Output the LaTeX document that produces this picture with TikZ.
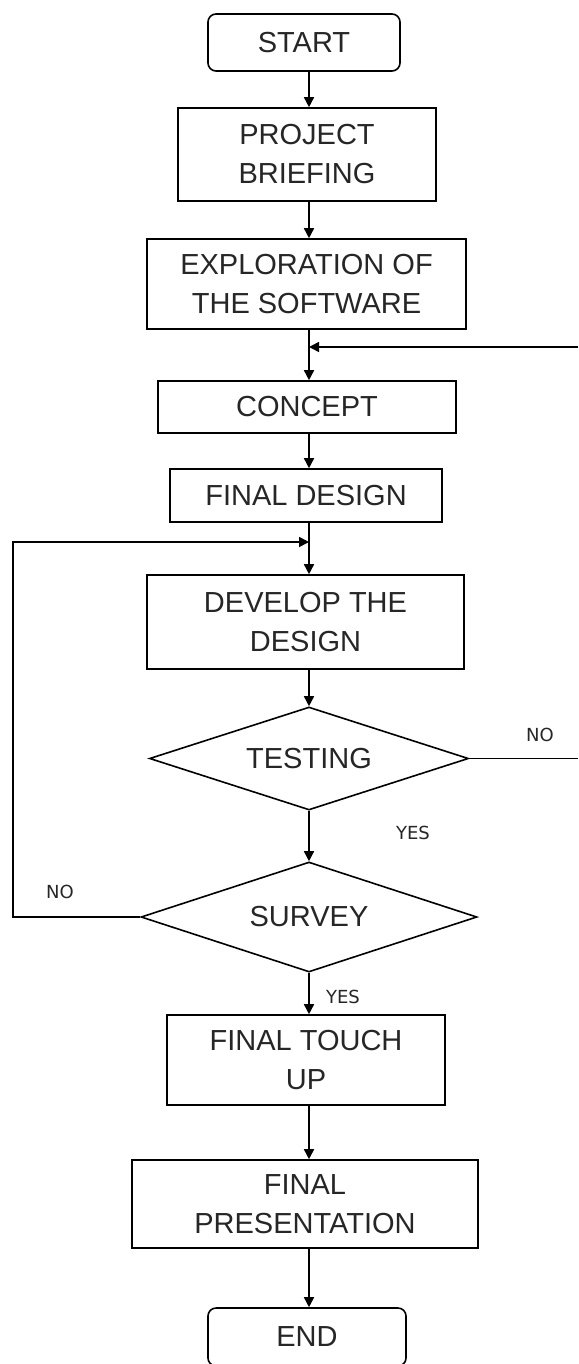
\documentclass[tikz,border=0pt]{standalone}
\usepackage{fontspec}
\setmainfont{Liberation Sans}
\newfontfamily\labelfont{DejaVu Sans}
\usetikzlibrary{shapes.geometric,arrows.meta}
\begin{document}
\begin{tikzpicture}[x=1pt,y=-1pt,
  every node/.style={text=black!85},
  boxtxt/.style={font=\fontsize{29}{39}\selectfont, align=center},
  proc/.style={boxtxt, draw=black, line width=1.6pt, rectangle, inner sep=0pt},
  term/.style={proc, rounded corners=8pt},
  decide/.style={boxtxt, draw=black, line width=1.6pt, diamond, inner sep=0pt},
  lbl/.style={font=\labelfont\fontsize{18}{20}\selectfont, inner sep=0pt},
  flow/.style={line width=1.6pt, draw=black, -{Triangle[length=10pt,width=10pt]}},
  plain/.style={line width=1.6pt, draw=black}
]
\clip (0,0) rectangle (578,1364);
\fill[white] (0,0) rectangle (578,1364);

\coordinate (axis) at (309,0);

\node[term, minimum width=192pt, minimum height=57pt] (start) at (304,42.5) {START};
\node[proc, minimum width=258pt, minimum height=93pt] (brief) at (307,154.5) {PROJECT\\BRIEFING};
\node[proc, minimum width=319pt, minimum height=90pt] (explore) at (306.5,284) {EXPLORATION OF\\THE SOFTWARE};
\node[proc, minimum width=298pt, minimum height=52pt] (concept) at (307,407) {CONCEPT};
\node[proc, minimum width=272pt, minimum height=53pt] (fdesign) at (306,495.5) {FINAL DESIGN};
\node[proc, minimum width=317pt, minimum height=94pt] (develop) at (305.5,622) {DEVELOP THE\\DESIGN};
\node[decide, aspect=3.1, minimum width=319pt, minimum height=103pt] (testing) at (309,758.5) {TESTING};
\node[decide, aspect=3.05, minimum width=336pt, minimum height=110pt] (survey) at (309,917) {SURVEY};
\node[proc, minimum width=278pt, minimum height=90pt] (touch) at (306,1060) {FINAL TOUCH\\UP};
\node[proc, minimum width=346pt, minimum height=88pt] (present) at (305,1204) {FINAL\\PRESENTATION};
\node[term, minimum width=198pt, minimum height=58pt] (end) at (307,1337) {END};

\node[lbl] (noright) at (540,735) {NO};
\node[lbl] (yes1) at (413,833) {YES};
\node[lbl] (noleft) at (60,892) {NO};
\node[lbl] (yes2) at (343,997) {YES};

\coordinate (backin) at (309,347);
\coordinate (backright) at (578,347);
\coordinate (noout) at (578,758.5);
\coordinate (loopin) at (309,542);
\coordinate (loopleft) at (13,542);

% main flow
\draw[flow] (start.south -| axis) -- (brief.north -| axis);
\draw[flow] (brief.south -| axis) -- (explore.north -| axis);
\draw[flow] (explore.south -| axis) -- (concept.north -| axis);
\draw[flow] (concept.south -| axis) -- (fdesign.north -| axis);
\draw[flow] (fdesign.south -| axis) -- (develop.north -| axis);
\draw[flow] (develop.south -| axis) -- (testing.north);
\draw[flow] (testing.south) -- (survey.north);
\draw[flow] (survey.south) -- (touch.north -| axis);
\draw[flow] (touch.south -| axis) -- (present.north -| axis);
\draw[flow] (present.south -| axis) -- (end.north -| axis);

% feedback lines
\draw[flow] (backright) -- (backin);
\draw[plain] (testing.east) -- (noout);
\draw[flow] (survey.west) -| (loopleft) -- (loopin);
\end{tikzpicture}
\end{document}
